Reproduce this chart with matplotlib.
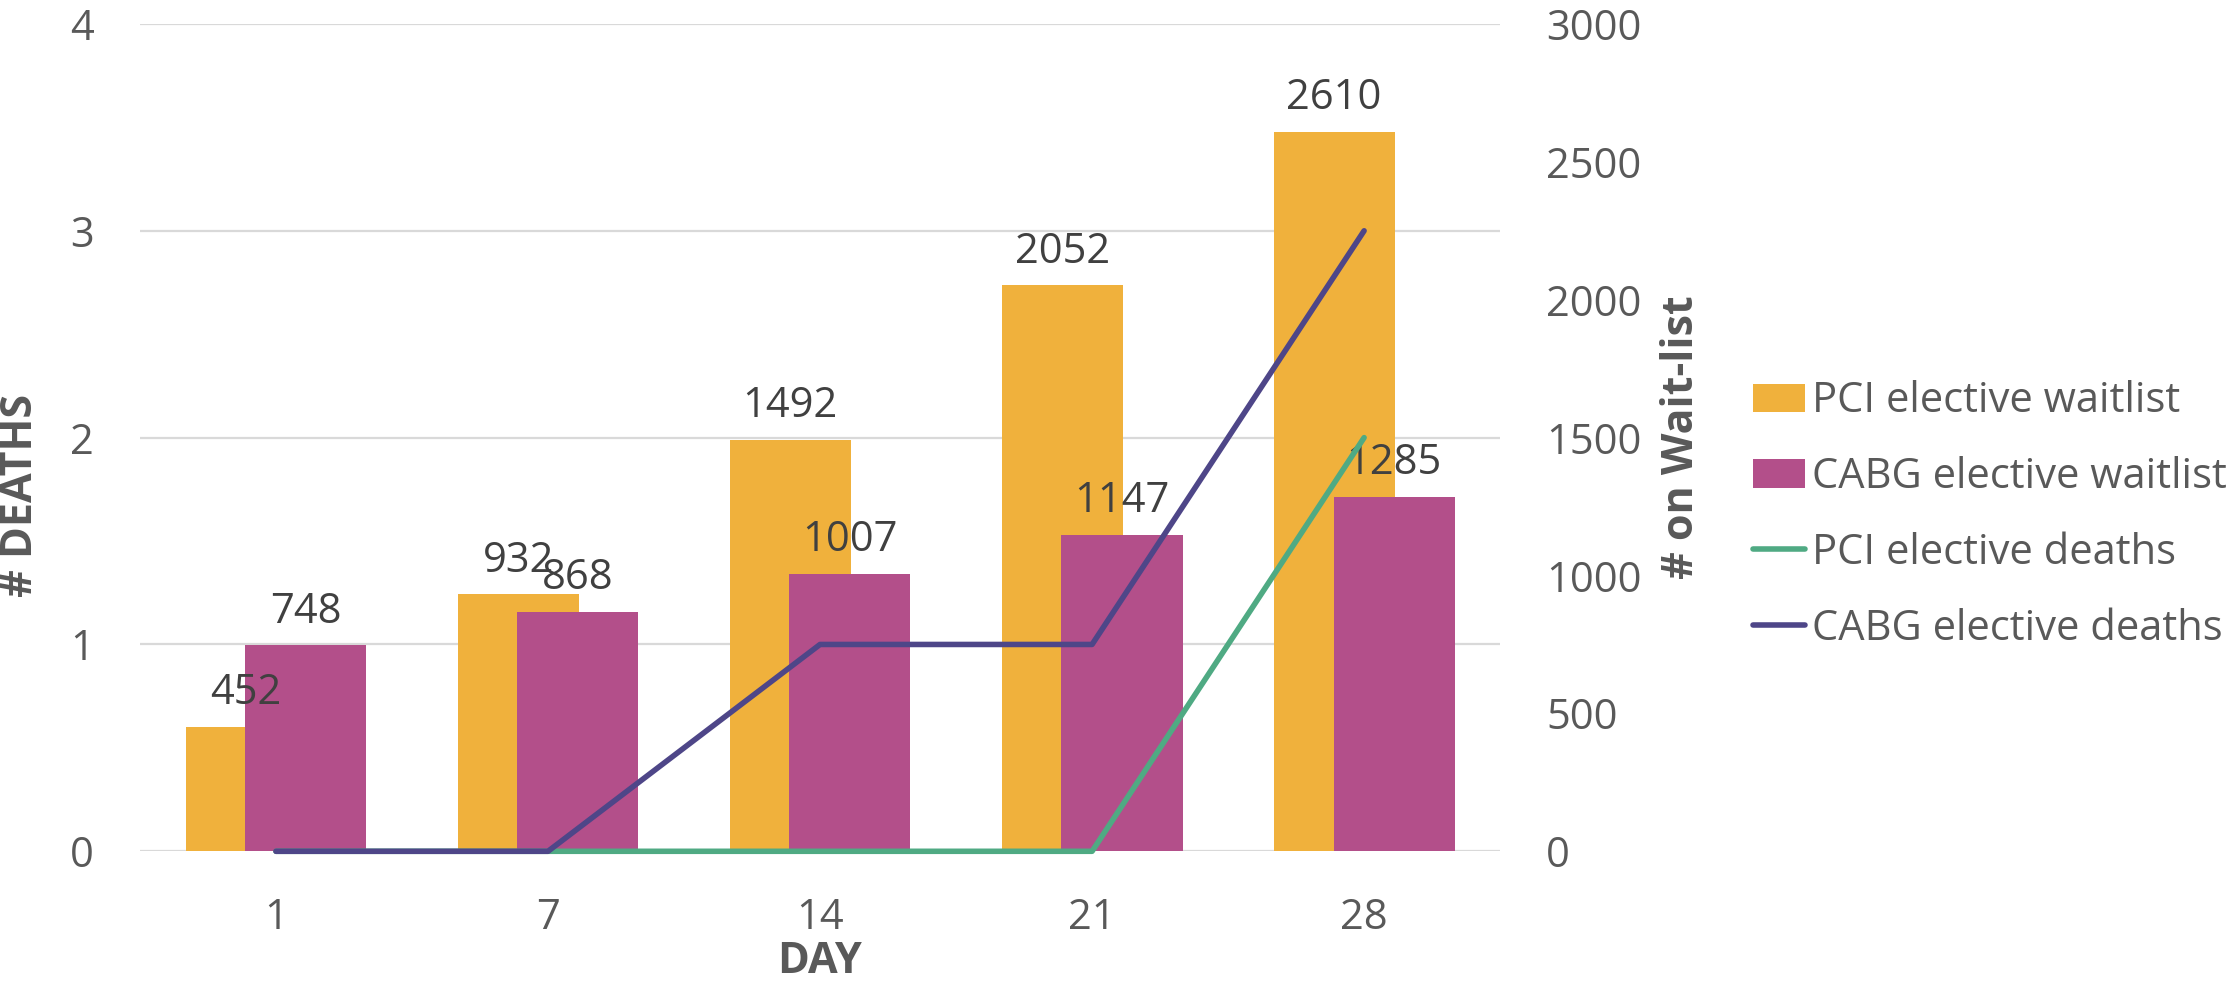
import matplotlib.pyplot as plt
import numpy as np
from matplotlib.ticker import MultipleLocator

plt.rcParams['font.family'] = ['Open Sans', 'DejaVu Sans']

days = ['1', '7', '14', '21', '28']
pci_waitlist = [452, 932, 1492, 2052, 2610]
cabg_waitlist = [748, 868, 1007, 1147, 1285]
pci_deaths = [0, 0, 0, 0, 2]
cabg_deaths = [0, 0, 1, 1, 3]

grey = '#595959'
fig = plt.figure(figsize=(22.39, 9.98), dpi=100)
ax = fig.add_axes([0.0625, 0.147, 0.6075, 0.829])
ax2 = ax.twinx()

# bars go on the wait-list axis, lines on the deaths axis drawn above
ax.set_zorder(2)
ax.patch.set_visible(False)
ax2.set_zorder(1)

x = np.arange(len(days))
w = 0.445
b1 = ax2.bar(x - 0.11, pci_waitlist, w, color='#F0B13C', label='PCI elective waitlist')
b2 = ax2.bar(x + 0.11, cabg_waitlist, w, color='#B34F8A', label='CABG elective waitlist')
for b in (b1, b2):
    ax2.bar_label(b, padding=9, fontsize=30, color='#404040')

l1, = ax.plot(x, pci_deaths, color='#4FAA83', lw=4, solid_capstyle='round',
              clip_on=False, label='PCI elective deaths')
l2, = ax.plot(x, cabg_deaths, color='#4E4688', lw=4, solid_capstyle='round',
              clip_on=False, label='CABG elective deaths')

ax.set_xlim(-0.5, 4.5)
ax.set_ylim(0, 4)
ax2.set_ylim(0, 3000)
ax.set_yticks(range(5))
ax2.set_yticks(range(0, 3001, 500))
ax.set_xticks(x, days)

# gridlines follow the deaths ticks but sit behind the bars
ax2.yaxis.set_minor_locator(MultipleLocator(750))
ax2.yaxis.remove_overlapping_locs = False
ax2.grid(which='minor', axis='y', color='#D9D9D9', lw=1.6)
ax2.set_axisbelow(True)
ax2.tick_params(which='minor', length=0)

for a in (ax, ax2):
    for s in a.spines.values():
        s.set_visible(False)
    a.tick_params(which='major', length=0, pad=33, labelsize=30, labelcolor=grey)

ax.set_xlabel('DAY', fontsize=31, fontweight='bold', color=grey)
ax.xaxis.set_label_coords(0.5, -0.107)
ax.set_ylabel('# DEATHS', fontsize=31, fontweight='bold', color=grey, va='center')
ax.yaxis.set_label_coords(-0.0875, 0.43)
ax2.set_ylabel('# on Wait-list', fontsize=31, fontweight='bold', color=grey, va='center')
ax2.yaxis.set_label_coords(1.133, 0.501)

fig.legend(handles=[b1, b2, l1, l2], loc='center left', bbox_to_anchor=(0.783, 0.484),
           frameon=False, fontsize=30, labelcolor=grey, handlelength=1.25,
           handleheight=0.67, handletextpad=0.17, labelspacing=0.81,
           borderpad=0, borderaxespad=0)

fig.savefig('out.png', dpi=100)
